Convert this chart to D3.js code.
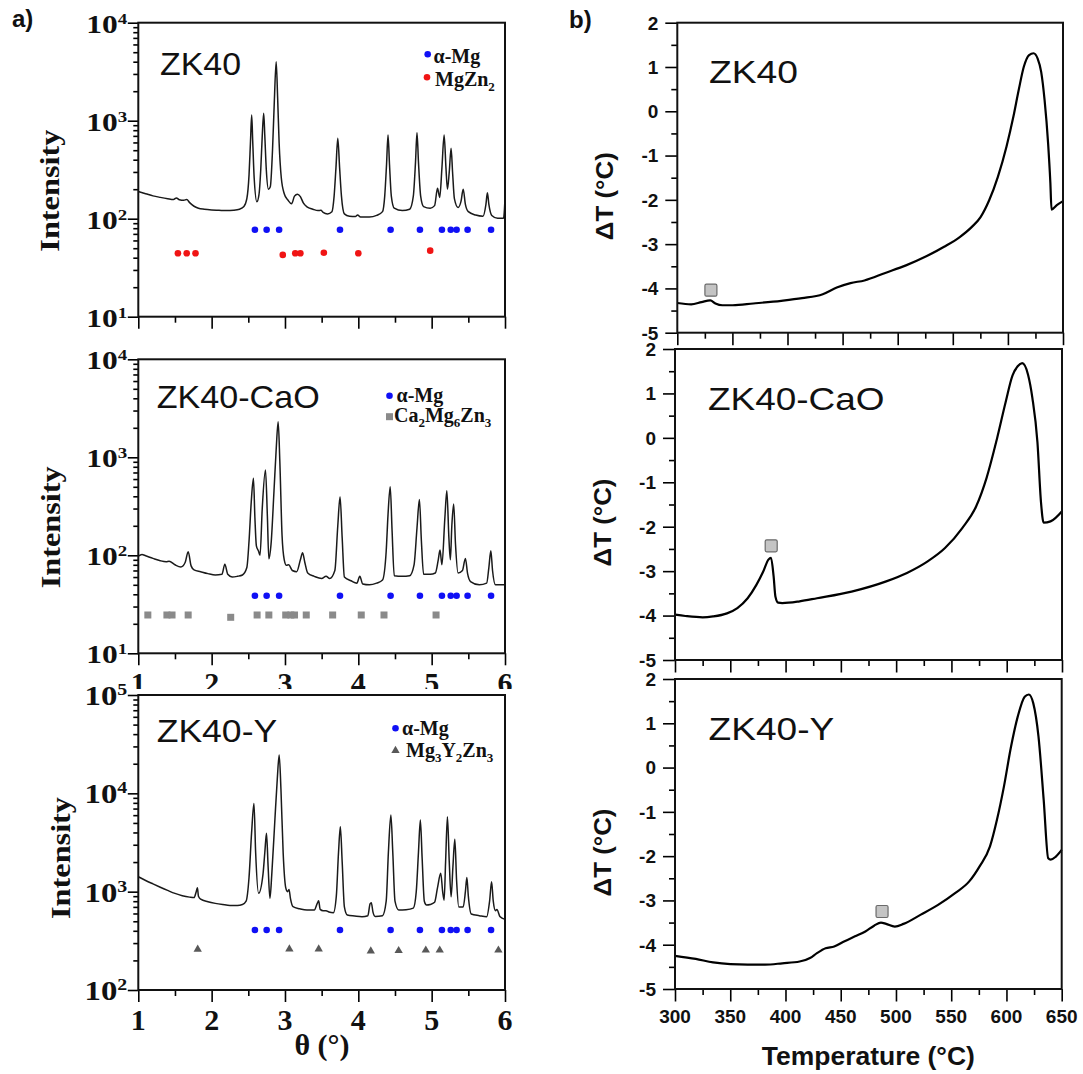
<!DOCTYPE html>
<html>
<head>
<meta charset="utf-8">
<script src="https://cdn.jsdelivr.net/npm/d3@7"></script>
<style>
  html, body { margin: 0; padding: 0; background: #fff; }
  svg { display: block; }
</style>
</head>
<body>
<svg id="fig" width="1083" height="1074"></svg>
<script>
// ---------------- XRD patterns: [theta (°), intensity (counts)] ----------------
const xrdZK40 = [
  [1.00,189],[1.10,180],[1.20,171],[1.30,165],[1.40,160],[1.48,157],[1.52,163],[1.56,156],[1.62,154],[1.66,157],
  [1.70,146],[1.76,134],[1.82,128],[1.90,125],[2.00,123],[2.10,122],[2.20,121],[2.30,122],[2.38,125],[2.44,133],
  [2.48,160],[2.51,280],[2.53,620],[2.546,1140],[2.56,620],[2.58,260],[2.617,149],[2.645,175],[2.67,320],[2.69,700],
  [2.71,1190],[2.725,700],[2.745,320],[2.775,200],[2.80,212],[2.83,500],[2.855,1600],[2.88,4000],[2.90,1700],[2.92,600],
  [2.95,260],[2.99,180],[3.04,155],[3.09,142],[3.13,170],[3.17,178],[3.21,168],[3.25,145],[3.30,132],[3.38,125],
  [3.45,121],[3.49,122],[3.52,116],[3.58,112],[3.64,118],[3.67,170],[3.695,330],[3.72,661],[3.745,330],[3.77,170],
  [3.81,112],[3.88,106],[3.96,105],[3.99,109],[4.03,104],[4.15,104],[4.25,108],[4.33,118],[4.36,170],[4.385,360],
  [4.405,714],[4.425,360],[4.45,170],[4.49,128],[4.60,121],[4.70,125],[4.75,170],[4.78,380],[4.80,755],[4.82,380],
  [4.85,170],[4.89,133],[4.98,128],[5.04,136],[5.08,204],[5.11,165],[5.14,330],[5.17,714],[5.195,330],[5.215,200],
  [5.24,300],[5.265,522],[5.285,300],[5.31,160],[5.36,130],[5.40,150],[5.43,200],[5.46,140],[5.50,118],[5.60,109],
  [5.70,106],[5.74,140],[5.76,184],[5.78,140],[5.82,108],[5.90,101],[5.98,101],[6.00,161]
];
const xrdZK40CaO = [
  [1.00,98],[1.05,102],[1.10,99],[1.20,93],[1.30,88],[1.38,86],[1.42,87],[1.50,80],[1.58,76],[1.64,85],
  [1.68,109],[1.72,78],[1.76,71],[1.85,68],[1.95,65],[2.05,63],[2.14,64],[2.18,81],[2.22,64],[2.28,60],
  [2.35,61],[2.42,63],[2.48,75],[2.51,140],[2.54,350],[2.57,611],[2.59,240],[2.61,125],[2.64,110],[2.66,100],
  [2.69,300],[2.734,741],[2.76,250],[2.78,92],[2.81,130],[2.85,450],[2.88,1200],[2.907,2307],[2.93,900],[2.96,160],
  [2.99,90],[3.02,79],[3.05,80],[3.10,70],[3.16,68],[3.21,90],[3.24,106],[3.27,85],[3.31,66],[3.40,61],
  [3.50,58],[3.56,61],[3.61,58],[3.68,70],[3.72,200],[3.751,396],[3.78,150],[3.81,60],[3.90,55],[3.98,52],
  [4.02,61],[4.06,51],[4.15,50],[4.25,52],[4.33,56],[4.38,110],[4.405,260],[4.435,501],[4.46,180],[4.49,62],
  [4.60,61],[4.70,62],[4.76,80],[4.80,190],[4.833,372],[4.86,140],[4.89,64],[4.98,64],[5.05,66],[5.09,90],
  [5.114,113],[5.14,80],[5.18,240],[5.207,456],[5.235,150],[5.255,90],[5.275,200],[5.30,334],[5.325,130],[5.36,66],
  [5.42,70],[5.46,93],[5.49,65],[5.53,54],[5.65,50],[5.75,52],[5.78,75],[5.807,111],[5.83,70],[5.87,50],
  [6.00,50]
];
const xrdZK40Y = [
  [1.00,1418],[1.10,1300],[1.20,1200],[1.30,1110],[1.40,1030],[1.50,960],[1.60,910],[1.70,880],[1.76,870],[1.79,1000],
  [1.806,1096],[1.82,900],[1.85,840],[1.95,790],[2.05,760],[2.15,740],[2.25,725],[2.35,725],[2.42,740],[2.47,800],
  [2.51,1400],[2.545,4000],[2.577,7900],[2.60,2500],[2.64,962],[2.70,1500],[2.725,2500],[2.748,3917],[2.77,1800],[2.795,855],
  [2.82,1500],[2.86,5000],[2.895,14000],[2.921,24550],[2.945,11000],[2.975,2500],[3.01,1100],[3.035,1000],[3.055,1054],[3.075,850],
  [3.11,703],[3.20,670],[3.30,650],[3.40,650],[3.44,760],[3.459,807],[3.48,660],[3.52,640],[3.56,640],[3.60,620],
  [3.66,611],[3.70,900],[3.73,2500],[3.755,4571],[3.78,2000],[3.81,700],[3.85,578],[3.95,565],[4.05,556],[4.13,570],
  [4.16,750],[4.177,772],[4.20,620],[4.23,560],[4.33,570],[4.38,800],[4.41,2500],[4.444,6012],[4.47,2500],[4.50,800],
  [4.55,650],[4.65,655],[4.75,680],[4.79,1000],[4.82,2500],[4.846,5346],[4.87,2200],[4.90,800],[4.93,731],[4.98,740],
  [5.04,780],[5.08,1100],[5.124,1535],[5.15,1000],[5.17,820],[5.19,2000],[5.215,5779],[5.24,2000],[5.265,887],[5.29,1800],
  [5.316,3404],[5.34,1300],[5.37,700],[5.43,700],[5.46,1000],[5.48,1396],[5.50,900],[5.54,592],[5.65,570],[5.75,556],
  [5.79,800],[5.817,1262],[5.84,800],[5.87,640],[5.89,660],[5.93,560],[6.00,523]
];

// ---------------- Reflection markers ----------------
const alphaMgTheta   = [2.59, 2.75, 2.92, 3.75, 4.44, 4.84, 5.14, 5.26, 5.34, 5.49, 5.81];
const alphaMgLevels  = [77, 38.7, 407];              // marker row height in each pattern
const mgZn2Theta     = [1.54, 1.66, 1.78, 2.97, 3.14, 3.21, 3.53, 4.00, 4.98];
const mgZn2Level     = [44.4, 44.4, 44.4, 42.7, 44.4, 44.4, 45, 44.4, 47.2];
const ca2Mg6Zn3Theta = [1.13, 1.39, 1.46, 1.68, 2.26, 2.62, 2.78, 3.01, 3.08, 3.13, 3.29, 3.65, 4.04, 4.35, 5.06];
const ca2Mg6Zn3Level = [24.6, 24.6, 24.6, 24.6, 23.3, 24.6, 24.6, 24.6, 24.6, 24.6, 24.6, 24.6, 24.6, 24.6, 24.6];
const mg3Y2Zn3Theta  = [1.81, 3.06, 3.46, 4.17, 4.55, 4.92, 5.11, 5.91];
const mg3Y2Zn3Level  = [259, 261, 261, 249, 251, 254, 254, 254];

// ---------------- DSC curves: [temperature (°C), ΔT (°C)] ----------------
const dscZK40 = [
  [300,-4.33],[312.6,-4.36],[322,-4.31],[329.9,-4.27],[334.6,-4.34],[340.9,-4.38],[350.3,-4.38],[369,-4.34],
  [394.3,-4.28],[413.2,-4.22],[432,-4.13],[444.7,-3.98],[457.2,-3.88],[469.8,-3.82],[488.7,-3.65],[507.5,-3.48],
  [526.4,-3.27],[542.1,-3.06],[556.3,-2.84],[567.3,-2.61],[575.2,-2.39],[583,-2.01],[590.9,-1.48],[598.7,-0.80],
  [605,-0.12],[609.8,0.48],[614.5,1.01],[619.2,1.27],[623.3,1.31],[627,1.19],[630.2,0.89],[633.3,0.25],
  [636.5,-0.73],[638.5,-1.60],[639.6,-2.22],[644.4,-2.12],[650,-2.03]
];
const dscZK40CaO = [
  [300,-3.98],[309.4,-4.01],[325,-4.04],[334.4,-4.02],[347,-3.95],[356.4,-3.83],[365.7,-3.61],[373.6,-3.31],
  [379.8,-3.01],[384.5,-2.74],[386.8,-2.70],[389.2,-3.12],[390.8,-3.57],[393.3,-3.71],[397,-3.72],[412.7,-3.68],
  [428.4,-3.61],[459.7,-3.46],[491,-3.23],[509.8,-3.04],[528.5,-2.78],[544.2,-2.48],[559.8,-2.03],[572.4,-1.54],
  [581.8,-0.90],[591.1,-0.03],[599,0.80],[605.2,1.40],[609.9,1.61],[614,1.68],[619.3,1.42],[623.2,0.90],
  [627.8,-0.10],[631,-1.45],[633.4,-1.91],[639.6,-1.88],[650,-1.65]
];
const dscZK40Y = [
  [300,-4.25],[318.8,-4.32],[334.5,-4.40],[350.1,-4.44],[365.8,-4.45],[381.5,-4.45],[397.1,-4.42],[412.8,-4.38],
  [422.2,-4.30],[428.5,-4.19],[436.3,-4.08],[444.1,-4.04],[453.5,-3.92],[462.9,-3.81],[472.3,-3.70],[480.2,-3.57],
  [486.4,-3.50],[491.1,-3.53],[499,-3.59],[506.8,-3.53],[522.5,-3.32],[538.1,-3.10],[553.8,-2.83],[566.3,-2.57],
  [575.7,-2.23],[585.1,-1.78],[591.4,-1.18],[597.7,-0.43],[603.9,0.44],[610.2,1.15],[616.5,1.60],[620.2,1.65],
  [624.3,1.45],[629,0.70],[633.7,-0.73],[637.8,-2.05],[640,-2.08],[644.7,-2.01],[650,-1.86]
];
// square markers flagging the secondary-phase events: [temperature, ΔT]
const dscMarkers = [[330.5,-4.04],[387,-2.43],[487.4,-3.25]];

// ---------------- Axis ticks ----------------
const thetaTicks  = [1, 2, 3, 4, 5, 6];
const thetaMinor  = [1.5, 2.5, 3.5, 4.5, 5.5];
const expsLow     = [1, 2, 3, 4];   // 10^1 … 10^4
const expsHigh    = [2, 3, 4, 5];   // 10^2 … 10^5
const tempTicks   = [300, 350, 400, 450, 500, 550, 600, 650];
const tempMinor   = [325, 375, 425, 475, 525, 575, 625];
const dTTicks     = [2, 1, 0, -1, -2, -3, -4, -5];
const dTMinor     = [1.5, 0.5, -0.5, -1.5, -2.5, -3.5, -4.5];

const sampleNames = ["ZK40", "ZK40-CaO", "ZK40-Y"];

// ---------------- Styling ----------------
const SERIF = "'Liberation Serif','Times New Roman',serif";
const SANS  = "'Liberation Sans',Arial,sans-serif";
const BLUE = "#1010f5", RED = "#f01414", GREY_SQ = "#8a8a8a", GREY_TRI = "#585858";

const svg = d3.select("#fig");

function styleTicks(sel) {
  sel.select(".domain").remove();
  sel.selectAll("line").attr("stroke", "#000").attr("stroke-width", 1.6);
}

function drawMarker(g, shape, color, cx, cy) {
  if (shape === "dot") {
    g.append("circle").attr("cx", cx).attr("cy", cy).attr("r", 3.3).attr("fill", color);
  } else if (shape === "square") {
    g.append("rect").attr("x", cx - 3.5).attr("y", cy - 3.5).attr("width", 7).attr("height", 7).attr("fill", color);
  } else {
    g.append("path").attr("d", d3.symbol(d3.symbolTriangle, 30)()).attr("transform", `translate(${cx},${cy})`).attr("fill", color);
  }
}

// ---------------- XRD panels (a) ----------------
const xrdPanels = [
  { name: sampleNames[0], data: xrdZK40, exps: expsLow, x0: 138.3, x1: 505, y0: 22.7, y1: 316.7,
    lab: { fs: 25, sx: 1.26, dy: 10, sfs: 15, sup: 9 }, showX: false, intensityX: 59,
    nameAt: [160, 75, 81],
    markers: [
      { shape: "dot", color: BLUE, theta: alphaMgTheta, level: alphaMgTheta.map(() => alphaMgLevels[0]) },
      { shape: "dot", color: RED, theta: mgZn2Theta, level: mgZn2Level }
    ],
    legend: [
      { shape: "dot", color: BLUE, at: [427.7, 54.3], tx: 433.5, ty: 63.3, parts: [["α-Mg", 0]] },
      { shape: "dot", color: RED, at: [427, 77.3], tx: 435, ty: 85.5, parts: [["MgZn", 0], ["2", 1]] }
    ] },
  { name: sampleNames[1], data: xrdZK40CaO, exps: expsLow, x0: 138.3, x1: 505, y0: 359.3, y1: 653.3,
    lab: { fs: 25, sx: 1.26, dy: 10, sfs: 15, sup: 9 }, showX: true, intensityX: 60,
    nameAt: [156.7, 408.3, 163],
    markers: [
      { shape: "dot", color: BLUE, theta: alphaMgTheta, level: alphaMgTheta.map(() => alphaMgLevels[1]) },
      { shape: "square", color: GREY_SQ, theta: ca2Mg6Zn3Theta, level: ca2Mg6Zn3Level }
    ],
    legend: [
      { shape: "dot", color: BLUE, at: [389.5, 395.7], tx: 396.5, ty: 402, parts: [["α-Mg", 0]] },
      { shape: "square", color: GREY_SQ, at: [389.5, 416.7], tx: 394, ty: 422, parts: [["Ca", 0], ["2", 1], ["Mg", 0], ["6", 1], ["Zn", 0], ["3", 1]] }
    ] },
  { name: sampleNames[2], data: xrdZK40Y, exps: expsHigh, x0: 138.3, x1: 505, y0: 695, y1: 990,
    lab: { fs: 28, sx: 1.17, dy: 10, sfs: 17, sup: 10 }, showX: true, intensityX: 70,
    nameAt: [156.7, 741.7, 120.5], cover: [110, 689, 420, 7],
    markers: [
      { shape: "dot", color: BLUE, theta: alphaMgTheta, level: alphaMgTheta.map(() => alphaMgLevels[2]) },
      { shape: "tri", color: GREY_TRI, theta: mg3Y2Zn3Theta, level: mg3Y2Zn3Level }
    ],
    legend: [
      { shape: "dot", color: BLUE, at: [395.5, 728.3], tx: 402, ty: 735, parts: [["α-Mg", 0]] },
      { shape: "tri", color: GREY_TRI, at: [395.5, 750.5], tx: 406, ty: 757, parts: [["Mg", 0], ["3", 1], ["Y", 0], ["2", 1], ["Zn", 0], ["3", 1]] }
    ] }
];

function drawXRD(p, idx) {
  const g = svg.append("g");
  if (p.cover) g.append("rect").attr("x", p.cover[0]).attr("y", p.cover[1])
    .attr("width", p.cover[2]).attr("height", p.cover[3]).attr("fill", "#fff");

  const x = d3.scaleLinear().domain([1, 6]).range([p.x0, p.x1]);
  const y = d3.scaleLog().domain([10 ** p.exps[0], 10 ** p.exps[p.exps.length - 1]]).range([p.y1, p.y0]);

  const majors = p.exps.map(e => 10 ** e);
  const minors = [];
  p.exps.slice(0, -1).forEach(e => { for (let k = 2; k < 10; k++) minors.push(k * 10 ** e); });

  g.append("g").attr("transform", `translate(${p.x0},0)`)
    .call(d3.axisLeft(y).tickValues(minors).tickSize(5).tickFormat("")).call(styleTicks);
  g.append("g").attr("transform", `translate(${p.x0},0)`)
    .call(d3.axisLeft(y).tickValues(majors).tickSize(10.5).tickFormat("")).call(styleTicks);
  g.append("g").attr("transform", `translate(0,${p.y1})`)
    .call(d3.axisBottom(x).tickValues(thetaMinor).tickSize(6).tickFormat("")).call(styleTicks);
  g.append("g").attr("transform", `translate(0,${p.y1})`)
    .call(d3.axisBottom(x).tickValues(thetaTicks).tickSize(12).tickFormat("")).call(styleTicks);

  // decade labels 10^n
  p.exps.forEach(e => {
    const t = g.append("text")
      .attr("transform", `translate(${p.x0 - 11},${y(10 ** e) + p.lab.dy}) scale(${p.lab.sx},1)`)
      .attr("text-anchor", "end").attr("font-family", SERIF).attr("font-weight", "bold")
      .attr("font-size", p.lab.fs).attr("fill", "#111");
    t.append("tspan").text("10");
    t.append("tspan").attr("font-size", p.lab.sfs).attr("dy", -p.lab.sup).text(e);
  });

  if (p.showX) {
    g.selectAll(null).data(thetaTicks).enter().append("text")
      .attr("x", d => x(d)).attr("y", p.y1 + 40).attr("text-anchor", "middle")
      .attr("font-family", SERIF).attr("font-weight", "bold").attr("font-size", 30).attr("fill", "#111")
      .text(d => d);
  }

  // pattern
  const line = d3.line().x(d => x(d[0])).y(d => y(d[1])).curve(d3.curveMonotoneX);
  g.append("path").datum(p.data).attr("d", line)
    .attr("fill", "none").attr("stroke", "#1a1a1a").attr("stroke-width", 1.5).attr("stroke-linejoin", "round");

  // reflection markers
  p.markers.forEach(m => {
    m.theta.forEach((t, i) => drawMarker(g, m.shape, m.color, x(t), y(m.level[i])));
  });

  // frame
  g.append("rect").attr("x", p.x0).attr("y", p.y0).attr("width", p.x1 - p.x0).attr("height", p.y1 - p.y0)
    .attr("fill", "none").attr("stroke", "#111").attr("stroke-width", 2);

  // legend
  p.legend.forEach(L => {
    drawMarker(g, L.shape, L.color, L.at[0], L.at[1]);
    const t = g.append("text").attr("x", L.tx).attr("y", L.ty)
      .attr("font-family", SERIF).attr("font-weight", "bold").attr("font-size", 20).attr("fill", "#111");
    let sub = false;
    L.parts.forEach(([s, isSub]) => {
      const ts = t.append("tspan").text(s);
      if (isSub && !sub) { ts.attr("font-size", 13).attr("dy", 5); sub = true; }
      else if (!isSub && sub) { ts.attr("dy", -5); sub = false; }
      else if (isSub) ts.attr("font-size", 13);
    });
  });

  // sample name
  g.append("text").attr("x", p.nameAt[0]).attr("y", p.nameAt[1])
    .attr("font-family", SANS).attr("font-size", 32).attr("fill", "#111")
    .attr("textLength", p.nameAt[2]).attr("lengthAdjust", "spacingAndGlyphs")
    .text(p.name);

  // y title
  const cy = p.y0 + (idx === 2 ? 163 : 168);
  g.append("text").attr("transform", `translate(${p.intensityX},${cy}) rotate(-90)`)
    .attr("text-anchor", "middle").attr("font-family", SERIF).attr("font-weight", "bold")
    .attr("font-size", 27).attr("fill", "#111")
    .attr("textLength", 122).attr("lengthAdjust", "spacingAndGlyphs")
    .text("Intensity");

  if (idx === 2) {
    g.append("text").attr("x", 322).attr("y", 1055).attr("text-anchor", "middle")
      .attr("font-family", SERIF).attr("font-weight", "bold").attr("font-size", 30).attr("fill", "#111")
      .text("θ (°)");
  }
}

xrdPanels.forEach(drawXRD);

// ---------------- DSC panels (b) ----------------
const dscPanels = [
  { name: sampleNames[0], data: dscZK40, mark: dscMarkers[0], x0: 677.3, x1: 1063, y0: 22.7, y1: 332.7, showX: false, nameAt: [709, 82.7, 89] },
  { name: sampleNames[1], data: dscZK40CaO, mark: dscMarkers[1], x0: 675, x1: 1062, y0: 349, y1: 660, showX: false, nameAt: [708, 410, 176.6] },
  { name: sampleNames[2], data: dscZK40Y, mark: dscMarkers[2], x0: 675, x1: 1061.7, y0: 679, y1: 989, showX: true, nameAt: [708.6, 740, 125.7] }
];

function drawDSC(p) {
  const g = svg.append("g");
  const x = d3.scaleLinear().domain([300, 650]).range([p.x0, p.x1]);
  const y = d3.scaleLinear().domain([-5, 2]).range([p.y1, p.y0]);

  g.append("g").attr("transform", `translate(${p.x0},0)`)
    .call(d3.axisLeft(y).tickValues(dTMinor).tickSize(6).tickFormat("")).call(styleTicks);
  g.append("g").attr("transform", `translate(${p.x0},0)`)
    .call(d3.axisLeft(y).tickValues(dTTicks).tickSize(12).tickFormat("")).call(styleTicks);
  g.append("g").attr("transform", `translate(0,${p.y1})`)
    .call(d3.axisBottom(x).tickValues(tempMinor).tickSize(6).tickFormat("")).call(styleTicks);
  g.append("g").attr("transform", `translate(0,${p.y1})`)
    .call(d3.axisBottom(x).tickValues(tempTicks).tickSize(12.5).tickFormat("")).call(styleTicks);

  g.selectAll(null).data(dTTicks).enter().append("text")
    .attr("x", p.x0 - 19).attr("y", d => y(d)).attr("dy", "0.36em").attr("text-anchor", "end")
    .attr("font-family", SANS).attr("font-weight", "bold").attr("font-size", 19).attr("fill", "#111")
    .text(d => String(d));

  if (p.showX) {
    g.selectAll(null).data(tempTicks).enter().append("text")
      .attr("x", d => x(d)).attr("y", p.y1 + 34).attr("text-anchor", "middle")
      .attr("font-family", SANS).attr("font-weight", "bold").attr("font-size", 19).attr("fill", "#111")
      .text(d => d);
    g.append("text").attr("x", (p.x0 + p.x1) / 2).attr("y", 1065).attr("text-anchor", "middle")
      .attr("font-family", SANS).attr("font-weight", "bold").attr("font-size", 25).attr("fill", "#111")
      .attr("textLength", 213).attr("lengthAdjust", "spacingAndGlyphs")
      .text("Temperature (°C)");
  }

  const line = d3.line().x(d => x(d[0])).y(d => y(d[1])).curve(d3.curveMonotoneX);
  g.append("path").datum(p.data).attr("d", line)
    .attr("fill", "none").attr("stroke", "#000").attr("stroke-width", 2.2).attr("stroke-linejoin", "round");

  g.append("rect").attr("x", x(p.mark[0]) - 6).attr("y", y(p.mark[1]) - 6)
    .attr("width", 12).attr("height", 12).attr("rx", 1.5)
    .attr("fill", "#c4c4c4").attr("stroke", "#6a6a6a").attr("stroke-width", 1.2);

  g.append("rect").attr("x", p.x0).attr("y", p.y0).attr("width", p.x1 - p.x0).attr("height", p.y1 - p.y0)
    .attr("fill", "none").attr("stroke", "#111").attr("stroke-width", 2);

  g.append("text").attr("x", p.nameAt[0]).attr("y", p.nameAt[1])
    .attr("font-family", SANS).attr("font-size", 32).attr("fill", "#111")
    .attr("textLength", p.nameAt[2]).attr("lengthAdjust", "spacingAndGlyphs")
    .text(p.name);

  g.append("text").attr("transform", `translate(${p.x0 - 64},${p.y0 + 173.5}) rotate(-90)`)
    .attr("text-anchor", "middle").attr("font-family", SANS).attr("font-weight", "bold")
    .attr("font-size", 24).attr("fill", "#111")
    .attr("textLength", 88).attr("lengthAdjust", "spacingAndGlyphs")
    .text("ΔT (°C)");
}

dscPanels.forEach(drawDSC);

// panel letters
svg.append("text").attr("x", 12).attr("y", 27).attr("font-family", SANS).attr("font-weight", "bold")
  .attr("font-size", 24).attr("fill", "#111").text("a)");
svg.append("text").attr("x", 569).attr("y", 28).attr("font-family", SANS).attr("font-weight", "bold")
  .attr("font-size", 24).attr("fill", "#111").text("b)");
</script>
</body>
</html>
